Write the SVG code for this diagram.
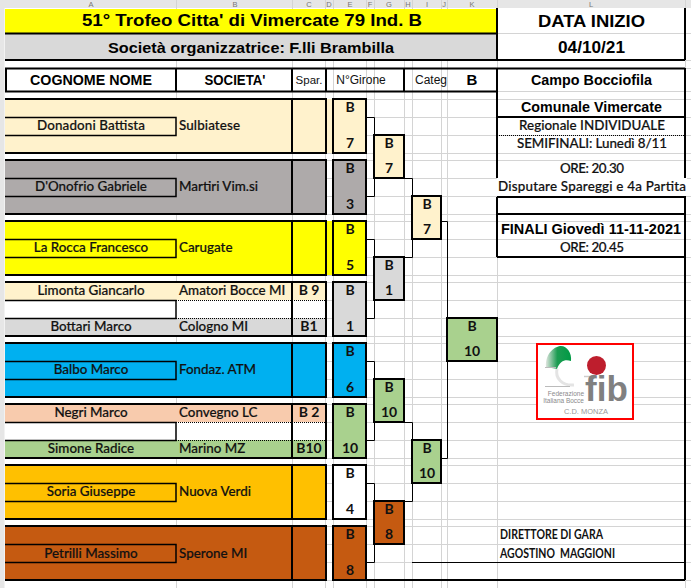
<svg xmlns="http://www.w3.org/2000/svg" width="691" height="588" viewBox="0 0 691 588">
<style>
text{font-family:"Lato","Liberation Sans",sans-serif;font-size:13.400px;font-weight:500;fill:#111;text-anchor:middle;stroke:#111;stroke-width:.2px}
.l{text-anchor:start}
.a{font-family:"Liberation Sans",Arial,sans-serif;font-weight:700;stroke:none;fill:#000}
.r{font-family:"Liberation Sans",Arial,sans-serif;font-weight:400;stroke:none}
.b{font-weight:700;font-size:14px;stroke:none}
.grid{stroke:#d4d4d4;stroke-width:1;fill:none}
.k{stroke:#000;stroke-width:2;fill:none}
.m{stroke:#000;stroke-width:1.5;fill:none}
.d{stroke:#000;stroke-width:1;stroke-dasharray:1 1;fill:none}
.c{stroke:#000;stroke-width:1;fill:none}
.box{stroke:#000;stroke-width:2}
.f1{fill:#FFF2CC}.f2{fill:#AEAAAA}.f3{fill:#FFFF00}.f4{fill:#D9D9D9}.f5{fill:#00B0F0}.f6{fill:#A9D18E}.f7{fill:#FFC000}.f8{fill:#C55A11}.f9{fill:#F8CBAD}.w{fill:#fff}
.hd{fill:#777;font-size:7.500px;font-family:"Liberation Sans",sans-serif;font-weight:400;stroke:none}
.logo{fill:#8a8a8a;font-family:"Liberation Sans",sans-serif;font-weight:400;stroke:none}
.dg{font-weight:700;font-size:12.500px;stroke:none}
</style>
<defs><linearGradient id="green" x1="0" x2="1" y1="0" y2="0"><stop offset="0" stop-color="#dfe5df"/><stop offset=".45" stop-color="#1c9c52"/><stop offset="1" stop-color="#009a44"/></linearGradient></defs>
<rect width="691" height="588" fill="#fff"/>
<g id="grid" class="grid">
<path d="M5 33.500H691M5 60.500H691M5 68.500H691M5 91.500H691M5 99.500H691M5 117.500H691M5 135.500H691M5 153.500H691M5 160.500H691M5 178.500H691M5 196.500H691M5 214.500H691M5 221.500H691M5 239.500H691M5 257.500H691M5 275.500H691M5 282.500H691M5 300.500H691M5 318.500H691M5 336.500H691M5 343.500H691M5 361.500H691M5 379.500H691M5 397.500H691M5 404.500H691M5 422.500H691M5 440.500H691M5 458.500H691M5 465.500H691M5 483.500H691M5 501.500H691M5 519.500H691M5 526.500H691M5 544.500H691M5 562.500H691M5 580.500H691"/>
<path d="M176.500 8V588M292.500 8V588M325.500 8V588M333.500 8V588M366.500 8V588M374.500 8V588M404.500 8V588M412.500 8V588M441.500 8V588M447.500 8V588M497.500 8V588M685.500 8V588"/>
</g>
<g id="column-headers">
<rect x="0" y="0" width="691" height="8" fill="#e6e6e6"/>
<rect x="0" y="0" width="4.500" height="588" fill="#e6e6e6"/>
<path d="M176.500 0V8M292.500 0V8M325.500 0V8M333.500 0V8M366.500 0V8M374.500 0V8M404.500 0V8M412.500 0V8M441.500 0V8M447.500 0V8M497.500 0V8M685.500 0V8" class="grid"/>
<text class="hd" x="91" y="7">A</text><text class="hd" x="235" y="7">B</text><text class="hd" x="309" y="7">C</text><text class="hd" x="329" y="7">D</text><text class="hd" x="350" y="7">E</text><text class="hd" x="370" y="7">F</text><text class="hd" x="389" y="7">G</text><text class="hd" x="408" y="7">H</text><text class="hd" x="427" y="7">I</text><text class="hd" x="444" y="7">J</text><text class="hd" x="472" y="7">K</text><text class="hd" x="591" y="7">L</text>
</g>
<g id="title">
<rect x="5" y="9" width="492" height="24" class="f3"/>
<rect x="5" y="34" width="492" height="26" class="f4"/>
<path class="k" d="M5 33.500H497M5 60H685M497 8V60M685 8V60"/>
<text class="a" x="252" y="26" textLength="340" lengthAdjust="spacingAndGlyphs" style="font-size:17px">51° Trofeo Citta' di Vimercate 79 Ind. B</text>
<text class="a" x="251" y="53" textLength="286" lengthAdjust="spacingAndGlyphs" style="font-size:14.500px">Società organizzatrice: F.lli Brambilla</text>
<text class="a" x="591.500" y="27" textLength="107" lengthAdjust="spacingAndGlyphs" style="font-size:16px">DATA INIZIO</text>
<text class="a" x="591.500" y="53" textLength="67" lengthAdjust="spacingAndGlyphs" style="font-size:16px">04/10/21</text>
</g>
<g id="table-header">
<path class="k" d="M5 68.500H685M5 91.500H497M6 68V92M176 68V92M292 68V92M326 68V92M404 68V92M497 68V92"/>
<text class="a" x="91" y="85" textLength="122" lengthAdjust="spacingAndGlyphs" style="font-size:14px">COGNOME NOME</text>
<text class="a" x="235" y="85" textLength="61" lengthAdjust="spacingAndGlyphs" style="font-size:14px">SOCIETA'</text>
<text class="r" x="309" y="84" style="font-size:11.500px">Spar.</text>
<text class="r" x="361" y="84" style="font-size:12px">N°Girone</text>
<text class="r" x="431" y="84" style="font-size:12px">Categ</text>
<text class="a" x="472" y="85" style="font-size:15px">B</text>
</g>
<g id="player-1"><rect x="5" y="99" width="320" height="54" class="f1"/><rect x="326" y="99" width="7" height="54" class="f1"/><path class="k" d="M5 99H326V153H5M292 99V153"/><path class="m" d="M5 117.500H176V135.500H5"/><text x="91" y="130" textLength="108">Donadoni Battista</text><text class="l" x="179" y="130" textLength="61">Sulbiatese</text></g>
<g id="player-2"><rect x="5" y="160" width="320" height="54" class="f2"/><path class="k" d="M5 160H326V214H5M292 160V214"/><path class="m" d="M5 178.500H176V196.500H5"/><text x="91" y="191">D'Onofrio Gabriele</text><text class="l" x="179" y="191">Martiri Vim.si</text></g>
<g id="player-3"><rect x="5" y="221" width="320" height="54" class="f3"/><rect x="326" y="221" width="7" height="54" class="f3"/><path class="k" d="M5 221H326V275H5M292 221V275"/><path class="m" d="M5 239.500H176V257.500H5"/><text x="91" y="252">La Rocca Francesco</text><text class="l" x="179" y="252">Carugate</text></g>
<g id="player-4"><rect x="5" y="282" width="320" height="18" class="f1"/><rect x="5" y="300" width="320" height="18" class="w"/><rect x="5" y="318" width="320" height="18" class="f4"/><path class="k" d="M5 282H326V336H5M292 282V336"/><path class="m" d="M5 300.500H176V318.500H5"/><path class="d" d="M176 300.500H325M176 318.500H325"/><text x="91" y="295">Limonta Giancarlo</text><text class="l" x="179" y="295">Amatori Bocce MI</text><text class="b" x="309" y="295">B 9</text><text x="91" y="331">Bottari Marco</text><text class="l" x="179" y="331">Cologno MI</text><text class="b" x="309" y="331">B1</text></g>
<g id="player-5"><rect x="5" y="343" width="320" height="54" class="f5"/><path class="k" d="M5 343H326V397H5M292 343V397"/><path class="m" d="M5 361.500H176V379.500H5"/><text x="91" y="374">Balbo Marco</text><text class="l" x="179" y="374">Fondaz. ATM</text></g>
<g id="player-6"><rect x="5" y="404" width="320" height="18" class="f9"/><rect x="5" y="422" width="320" height="18" class="w"/><rect x="5" y="440" width="320" height="18" class="f6"/><path class="k" d="M5 404H326V458H5M292 404V458"/><path class="m" d="M5 422.500H176V440.500H5"/><path class="d" d="M176 422.500H325M176 440.500H325"/><text x="91" y="417">Negri Marco</text><text class="l" x="179" y="417">Convegno LC</text><text class="b" x="309" y="417">B 2</text><text x="91" y="453">Simone Radice</text><text class="l" x="179" y="453">Marino MZ</text><text class="b" x="309" y="453">B10</text></g>
<g id="player-7"><rect x="5" y="465" width="320" height="54" class="f7"/><path class="k" d="M5 465H326V519H5M292 465V519"/><path class="m" d="M5 483.500H176V501.500H5"/><text x="91" y="496">Soria Giuseppe</text><text class="l" x="179" y="496">Nuova Verdi</text></g>
<g id="player-8"><rect x="5" y="526" width="320" height="54" class="f8"/><path class="k" d="M5 526H326V580H5M292 526V580"/><path class="m" d="M5 544.500H176V562.500H5"/><text x="91" y="558">Petrilli Massimo</text><text class="l" x="179" y="558">Sperone MI</text></g>
<g id="connectors" class="c">
<path d="M366 117.500H374.500V134M374.500 178V196.500H366"/>
<path d="M366 239.500H374.500V257M374.500 300V318.500H366"/>
<path d="M366 361.500H374.500V379M374.500 422V440.500H366"/>
<path d="M366 483.500H374.500V501M374.500 544V562.500H366"/>
<path d="M404 178.500H412.500V196M404 257.500H412.500V239"/>
<path d="M404 422.500H412.500V440M404 501.500H412.500V483"/>
<path d="M441 221.500H447.500V318M441 458.500H447.500V361"/>
</g>
<g id="girone-1"><rect x="333" y="99" width="33" height="54" class="box f1"/><text class="b" x="350" y="112">B</text><text class="b" x="350" y="148">7</text></g>
<g id="girone-2"><rect x="333" y="160" width="33" height="54" class="box f2"/><text class="b" x="350" y="173">B</text><text class="b" x="350" y="209">3</text></g>
<g id="girone-3"><rect x="333" y="221" width="33" height="54" class="box f3"/><text class="b" x="350" y="234">B</text><text class="b" x="350" y="270">5</text></g>
<g id="girone-4"><rect x="333" y="282" width="33" height="54" class="box f4"/><text class="b" x="350" y="295">B</text><text class="b" x="350" y="331">1</text></g>
<g id="girone-5"><rect x="333" y="343" width="33" height="54" class="box f5"/><text class="b" x="350" y="356">B</text><text class="b" x="350" y="392">6</text></g>
<g id="girone-6"><rect x="333" y="404" width="33" height="54" class="box f6"/><text class="b" x="350" y="417">B</text><text class="b" x="350" y="453">10</text></g>
<g id="girone-7"><rect x="333" y="465" width="33" height="54" class="box w"/><text class="b" x="350" y="478">B</text><text class="b" x="350" y="514">4</text></g>
<g id="girone-8"><rect x="333" y="526" width="33" height="54" class="box f8"/><text class="b" x="350" y="539">B</text><text class="b" x="350" y="575">8</text></g>
<g id="round2-1"><rect x="374" y="135" width="30" height="43" class="box f1"/><text class="b" x="389" y="148">B</text><text class="b" x="389" y="173">7</text></g>
<g id="round2-2"><rect x="374" y="257" width="30" height="43" class="box f4"/><text class="b" x="389" y="270">B</text><text class="b" x="389" y="295">1</text></g>
<g id="round2-3"><rect x="374" y="379" width="30" height="43" class="box f6"/><text class="b" x="389" y="392">B</text><text class="b" x="389" y="417">10</text></g>
<g id="round2-4"><rect x="374" y="501" width="30" height="43" class="box f8"/><text class="b" x="389" y="514">B</text><text class="b" x="389" y="539">8</text></g>
<g id="round3-1"><rect x="412" y="196" width="29" height="43" class="box f1"/><text class="b" x="427" y="209">B</text><text class="b" x="427" y="234">7</text></g>
<g id="round3-2"><rect x="412" y="440" width="29" height="43" class="box f6"/><text class="b" x="427" y="453">B</text><text class="b" x="427" y="478">10</text></g>
<g id="final"><rect x="447" y="318" width="50" height="43" class="box f6"/><text class="b" x="472" y="331">B</text><text class="b" x="472" y="356">10</text></g>
<g id="info-panel">
<rect x="497" y="178" width="190" height="18" class="w"/>
<path class="k" d="M497 68V178M685 68V178M685 196V580M497 117H685M497 197H685M497 214H685M497 257H685M497 197V257M366 580H685"/>
<path class="d" d="M497 135.500H685"/>
<path class="c" d="M412 562.500H685"/>
<text class="a" x="591.500" y="85" textLength="121" lengthAdjust="spacingAndGlyphs" style="font-size:14px">Campo Bocciofila</text>
<text class="a" x="591.500" y="112" textLength="141" lengthAdjust="spacingAndGlyphs" style="font-size:14px">Comunale Vimercate</text>
<text x="592" y="130" textLength="146">Regionale INDIVIDUALE</text>
<text x="592" y="148" textLength="150">SEMIFINALI: Lunedì 8/11</text>
<text x="592" y="173" textLength="64">ORE: 20.30</text>
<text x="592" y="191" textLength="188">Disputare Spareggi e 4a Partita</text>
<text class="a" x="591" y="234" textLength="180" lengthAdjust="spacingAndGlyphs" style="font-size:14px">FINALI Giovedì 11-11-2021</text>
<text x="592" y="252" textLength="64">ORE: 20.45</text>
<text class="l dg" x="500" y="539" textLength="103" lengthAdjust="spacingAndGlyphs">DIRETTORE DI GARA</text>
<text class="l dg" x="500" y="558" xml:space="preserve" textLength="115" lengthAdjust="spacingAndGlyphs">AGOSTINO  MAGGIONI</text>
</g>
<g id="logo">
<rect x="537" y="344" width="96" height="75" fill="#fff" stroke="#f00" stroke-width="2"/>
<path d="M546 367C545 352 556 346 561 346C567 346 572 353 571 361C566 359 560 360 557 369Z" fill="url(#green)"/>
<path d="M557 369C555 378 562 386 574 385" fill="none" stroke="#e4e4e4" stroke-width="3"/>
<path d="M545 367.500H556M545 386.500H570" stroke="#bbb" stroke-width="1" fill="none"/>
<path d="M584 376.500H594" stroke="#ccc" stroke-width="1.500" fill="none"/>
<circle cx="596.500" cy="365.500" r="9.500" fill="#be1e2d"/>
<text class="a" x="606.500" y="401" style="font-size:35px;fill:#808080">fib</text>
<text class="logo" x="584" y="396" style="font-size:6.500px;text-anchor:end">Federazione</text>
<text class="logo" x="584" y="403" style="font-size:6.500px;text-anchor:end">Italiana Bocce</text>
<text class="logo" x="586" y="414" style="font-size:7.500px;fill:#999">C.D. MONZA</text>
</g>
</svg>
